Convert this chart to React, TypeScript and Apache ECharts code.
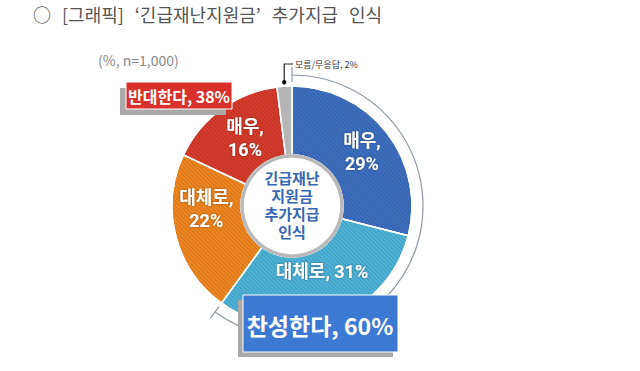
import React, { useEffect, useRef } from "react";
import * as echarts from "echarts";

const categories = ["매우", "대체로", "대체로", "매우", "모름/무응답"];
const values = [29, 31, 22, 16, 2];
const groups = ["찬성", "찬성", "반대", "반대", "모름"];
const colors = ["#3d6fc0", "#4db3d8", "#f0861f", "#d73b2b", "#b5b5b5"];
const titleParts = ["○", "[그래픽]", "‘긴급재난지원금’", "추가지급", "인식"];
const noteText = "(%, n=1,000)";
const centerLines = ["긴급재난", "지원금", "추가지급", "인식"];
const agreeLabel = "찬성한다";
const disagreeLabel = "반대한다";

const FONT = '"Noto Sans CJK KR", "Noto Sans", sans-serif';
const TIGHT_FONT = 'Roboto, "Noto Sans CJK KR", sans-serif';
const CX = 292;
const CY = 206;
const R_IN = 51;
const R_OUT = 120;
const R_ARC = 131;

export default function App() {
  const ref = useRef<HTMLDivElement>(null);
  useEffect(() => {
    document.body.style.margin = "0";
    if (!ref.current) return;
    const chart = echarts.init(ref.current, null, { renderer: "svg" });
    const total = values.reduce((a, b) => a + b, 0);
    const agree = values.filter((_, i) => groups[i] === "찬성").reduce((a, b) => a + b, 0);
    const disagree = values.filter((_, i) => groups[i] === "반대").reduce((a, b) => a + b, 0);
    const unkIdx = groups.indexOf("모름");
    const before = values.slice(0, unkIdx).reduce((a, b) => a + b, 0);
    const unkMid = ((before + values[unkIdx] / 2) / total) * Math.PI * 2;
    const dotX = CX + 124 * Math.sin(unkMid);
    const dotY = CY - 124 * Math.cos(unkMid);

    const arcStart = -Math.PI / 2;
    const arcEnd = -Math.PI / 2 + (agree / total) * Math.PI * 2;
    const tick = (a: number) => ({
      type: "line",
      z: 100,
      shape: {
        x1: CX + 124 * Math.cos(a),
        y1: CY + 124 * Math.sin(a),
        x2: CX + 139 * Math.cos(a),
        y2: CY + 139 * Math.sin(a),
      },
      style: { stroke: "#8c98a8", lineWidth: 1.2 },
      silent: true,
    });

    const labelShift: Record<number, number> = { 1: -18, 2: -19, 3: 4 };
    const decal = {
      symbol: "rect",
      symbolSize: 1,
      dashArrayX: [1, 0],
      dashArrayY: [1, 2],
      rotation: Math.PI / 4,
      color: "rgba(0,0,0,0.13)",
    };

    const titleRich = titleParts.map((p) => `{t|${p}}`).join("{s| }");
    const lineGap = 18;
    const centerTexts = centerLines.map((line, i) => ({
      type: "text",
      x: CX,
      y: CY + (i - (centerLines.length - 1) / 2) * lineGap,
      z: 101,
      style: {
        text: line,
        font: `bold 15px ${TIGHT_FONT}`,
        fill: "#3766b2",
        align: "center",
        verticalAlign: "middle",
      },
      silent: true,
    }));

    chart.setOption({
      animation: false,
      series: [
        {
          type: "pie",
          z: 1,
          center: [CX, CY],
          radius: [R_IN, R_OUT],
          startAngle: 90,
          clockwise: true,
          silent: true,
          emphasis: { disabled: true },
          itemStyle: { borderColor: "#ffffff", borderWidth: 1.5 },
          label: {
            show: true,
            position: "inside",
            color: "#ffffff",
            fontFamily: TIGHT_FONT,
            fontWeight: "bold",
            fontSize: 18,
            lineHeight: 23,
            textShadowColor: "rgba(0,0,0,0.4)",
            textShadowBlur: 2,
            textBorderWidth: 0,
          },
          labelLine: { show: false },
          labelLayout: (p: any) => ({ dy: labelShift[p.dataIndex] || 0, dx: p.dataIndex === 3 ? 5 : 0 }),
          data: values.map((v, i) => ({
            value: v,
            name: categories[i],
            itemStyle: { color: colors[i], decal: groups[i] === "모름" ? undefined : decal },
            label:
              groups[i] === "모름"
                ? { show: false }
                : { formatter: i === 1 ? "{b}, {c}%" : "{b},\n{c}%" },
          })),
        },
      ],
      graphic: [
        {
          type: "text",
          left: 33,
          top: 5,
          z: 100,
          style: {
            text: titleRich,
            rich: {
              t: { font: `18px ${FONT}`, fill: "#555555", color: "#555555" },
              s: { font: `18px ${FONT}`, width: 11 },
            },
          },
        },
        {
          type: "text",
          left: 98,
          top: 53,
          z: 100,
          style: { text: noteText, font: `14px ${FONT}`, fill: "#8a8a8a" },
        },
        {
          type: "circle",
          z: 100,
          shape: { cx: CX, cy: CY, r: R_IN - 1 },
          style: { fill: "#ffffff", stroke: "#b9b9b9", lineWidth: 3.5 },
          silent: true,
        },
        ...centerTexts,
        {
          type: "arc",
          z: 100,
          shape: { cx: CX, cy: CY, r: R_ARC, startAngle: arcStart, endAngle: arcEnd, clockwise: true },
          style: { stroke: "#8c98a8", lineWidth: 1.2, fill: "none" },
          silent: true,
        },
        tick(arcStart),
        tick(arcEnd),
        {
          type: "polyline",
          z: 100,
          shape: { points: [[dotX, dotY], [dotX, 64], [CX + 1, 64]] },
          style: { stroke: "#222222", lineWidth: 1.2, fill: "none" },
          silent: true,
        },
        {
          type: "circle",
          z: 100,
          shape: { cx: dotX, cy: dotY, r: 2.2 },
          style: { fill: "#111111" },
          silent: true,
        },
        {
          type: "text",
          x: CX + 3,
          y: 64,
          z: 100,
          style: {
            text: `${categories[unkIdx]}, ${values[unkIdx]}%`,
            font: `9px ${FONT}`,
            fill: "#333333",
            verticalAlign: "middle",
          },
          silent: true,
        },
        {
          type: "rect",
          z: 100,
          shape: { x: 120, y: 88, width: 106, height: 27 },
          style: { fill: "#a9a9a9" },
          silent: true,
        },
        {
          type: "rect",
          z: 101,
          shape: { x: 126, y: 82, width: 106, height: 27 },
          style: { fill: "#d8302a", stroke: "#ffffff", lineWidth: 1 },
          silent: true,
        },
        {
          type: "text",
          x: 179,
          y: 96,
          z: 102,
          style: {
            text: `${disagreeLabel}, ${disagree}%`,
            font: `bold 16px ${FONT}`,
            fill: "#ffffff",
            align: "center",
            verticalAlign: "middle",
          },
          silent: true,
        },
        {
          type: "rect",
          z: 100,
          shape: { x: 238, y: 300, width: 155, height: 57 },
          style: { fill: "#a9a9a9" },
          silent: true,
        },
        {
          type: "rect",
          z: 101,
          shape: { x: 243, y: 295, width: 155, height: 57 },
          style: { fill: "#3b79d3", stroke: "#ffffff", lineWidth: 1 },
          silent: true,
        },
        {
          type: "text",
          x: 320,
          y: 325,
          z: 102,
          style: {
            text: `${agreeLabel}, ${agree}%`,
            font: `bold 23px ${FONT}`,
            fill: "#ffffff",
            align: "center",
            verticalAlign: "middle",
          },
          silent: true,
        },
      ],
    });
    return () => chart.dispose();
  }, []);
  return <div ref={ref} style={{ width: 640, height: 371 }} />;
}
